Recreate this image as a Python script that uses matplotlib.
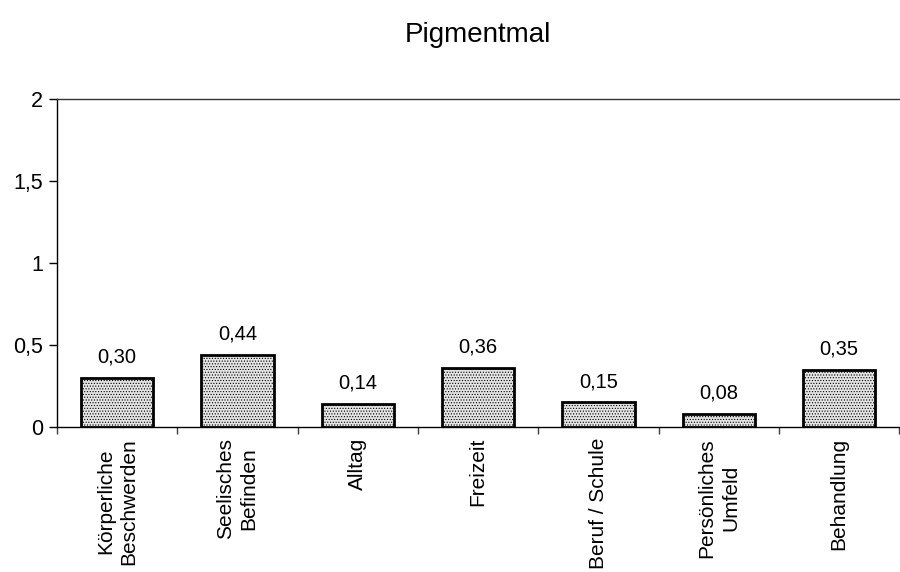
import matplotlib
matplotlib.use("Agg")
import matplotlib.pyplot as plt
import numpy as np

categories = ["Körperliche\nBeschwerden", "Seelisches\nBefinden", "Alltag", "Freizeit",
              "Beruf / Schule", "Persönliches\nUmfeld", "Behandlung"]
values = [0.30, 0.44, 0.14, 0.36, 0.15, 0.08, 0.35]
y_ticks = [0, 0.5, 1, 1.5, 2]
y_tick_labels = ["0", "0,5", "1", "1,5", "2"]
title = "Pigmentmal"

plt.rcParams["font.family"] = ["Liberation Sans", "DejaVu Sans"]
plt.rcParams["hatch.color"] = "#c4c4c4"
plt.rcParams["hatch.linewidth"] = 0.5

fig = plt.figure(figsize=(9, 5.72), dpi=100)
ax = fig.add_axes([0.0633, 0.2535, 0.936, 0.573])

x = np.arange(len(categories))
bars = ax.bar(x, values, width=0.6, facecolor="#e4e4e4", edgecolor="black",
              linewidth=2, hatch="......", zorder=3)

for xi, v in zip(x, values):
    ax.annotate(f"{v:.2f}".replace(".", ","), (xi, v), xytext=(0, 8),
                textcoords="offset points", ha="center", va="bottom", fontsize=14.5)

ax.set_xlim(-0.5, len(categories) - 0.5)
ax.set_ylim(0, 2)
ax.set_yticks(y_ticks)
ax.set_yticklabels(y_tick_labels, fontsize=15.5)
ax.tick_params(axis="y", direction="out", length=6, width=1, pad=4)

# category labels centred under bars, boundary ticks between categories
ax.set_xticks(x)
ax.set_xticklabels(categories, rotation=90, fontsize=15, ha="center", va="top",
                   multialignment="center", linespacing=1.3)
ax.tick_params(axis="x", which="major", length=0, pad=8)
ax.set_xticks(np.arange(-0.5, len(categories), 1.0), minor=True)
ax.tick_params(axis="x", which="minor", direction="out", length=5, width=1, color="#404040")

ax.spines["right"].set_visible(False)
for s in ("left", "bottom", "top"):
    ax.spines[s].set_linewidth(1)
    ax.spines[s].set_color("black")
ax.spines["top"].set_color("#333333")

fig.suptitle(title, x=0.531, y=0.962, fontsize=20, va="top")

fig.savefig("out.png", dpi=100)
